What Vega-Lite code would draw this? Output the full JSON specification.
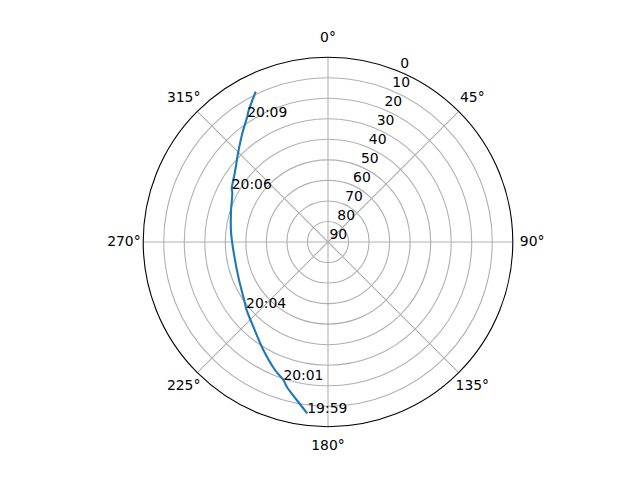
{
  "$schema": "https://vega.github.io/schema/vega-lite/v6.json",
  "description": "Polar sky plot of a satellite pass: azimuth clockwise from north, elevation 90 at the centre.",
  "autosize": "none",
  "width": 369.6,
  "height": 369.6,
  "padding": {"left": 143.2, "top": 57.2, "right": 127.2, "bottom": 53.2},
  "background": "white",
  "datasets": {
    "track": [
      {"az": 186.9, "el": 5.97, "time": "19:59"},
      {"az": 191.2, "el": 11.56, "time": ""},
      {"az": 195.9, "el": 16.71, "time": ""},
      {"az": 197.9, "el": 19.35, "time": "20:01"},
      {"az": 202.5, "el": 22.53, "time": ""},
      {"az": 210.9, "el": 28.69, "time": ""},
      {"az": 221.4, "el": 35.0, "time": ""},
      {"az": 231.0, "el": 38.64, "time": "20:04"},
      {"az": 233.6, "el": 39.75, "time": ""},
      {"az": 248.9, "el": 43.16, "time": ""},
      {"az": 265.2, "el": 43.71, "time": ""},
      {"az": 276.1, "el": 42.49, "time": ""},
      {"az": 287.3, "el": 40.51, "time": ""},
      {"az": 297.7, "el": 37.35, "time": ""},
      {"az": 298.7, "el": 36.54, "time": "20:06"},
      {"az": 307.1, "el": 33.22, "time": ""},
      {"az": 315.2, "el": 28.01, "time": ""},
      {"az": 322.3, "el": 22.09, "time": ""},
      {"az": 327.2, "el": 17.42, "time": "20:09"},
      {"az": 328.55, "el": 15.61, "time": ""},
      {"az": 334.3, "el": 8.77, "time": ""}
    ],
    "elev": [
      {"el": 0}, {"el": 10}, {"el": 20}, {"el": 30}, {"el": 40},
      {"el": 50}, {"el": 60}, {"el": 70}, {"el": 80}, {"el": 90}
    ],
    "azim": [
      {"az": 0, "label": "0°"}, {"az": 45, "label": "45°"},
      {"az": 90, "label": "90°"}, {"az": 135, "label": "135°"},
      {"az": 180, "label": "180°"}, {"az": 225, "label": "225°"},
      {"az": 270, "label": "270°"}, {"az": 315, "label": "315°"}
    ]
  },
  "encoding": {
    "x": {"field": "x", "type": "quantitative", "scale": {"domain": [-90, 90], "nice": false, "zero": false}, "axis": null},
    "y": {"field": "y", "type": "quantitative", "scale": {"domain": [-90, 90], "nice": false, "zero": false}, "axis": null}
  },
  "layer": [
    {
      "data": {"name": "elev"},
      "transform": [
        {"filter": "datum.el > 0 && datum.el < 90"},
        {"calculate": "90 - datum.el", "as": "r"},
        {"calculate": "0", "as": "x"},
        {"calculate": "0", "as": "y"}
      ],
      "mark": {"type": "point", "shape": "circle", "filled": false, "stroke": "#b0b0b0", "strokeWidth": 1.1, "opacity": 1},
      "encoding": {
        "size": {"field": "r", "type": "quantitative", "scale": {"type": "pow", "exponent": 2, "domain": [0, 90], "range": [0, 136604]}, "legend": null}
      }
    },
    {
      "data": {"name": "azim"},
      "transform": [
        {"calculate": "0", "as": "x"},
        {"calculate": "0", "as": "y"},
        {"calculate": "sin(datum.az * PI / 180) * 90", "as": "xe"},
        {"calculate": "cos(datum.az * PI / 180) * 90", "as": "ye"}
      ],
      "mark": {"type": "rule", "stroke": "#b0b0b0", "strokeWidth": 1.1},
      "encoding": {
        "x2": {"field": "xe"},
        "y2": {"field": "ye"}
      }
    },
    {
      "data": {"name": "track"},
      "transform": [
        {"calculate": "sin(datum.az * PI / 180) * (90 - datum.el)", "as": "x"},
        {"calculate": "cos(datum.az * PI / 180) * (90 - datum.el)", "as": "y"}
      ],
      "mark": {"type": "line", "color": "#1f77b4", "strokeWidth": 2.1, "interpolate": "catmull-rom"},
      "encoding": {
        "order": {"value": null}
      }
    },
    {
      "data": {"name": "elev"},
      "transform": [
        {"filter": "datum.el == 0"},
        {"calculate": "90 - datum.el", "as": "r"},
        {"calculate": "0", "as": "x"},
        {"calculate": "0", "as": "y"}
      ],
      "mark": {"type": "point", "shape": "circle", "filled": false, "stroke": "black", "strokeWidth": 1.1, "opacity": 1},
      "encoding": {
        "size": {"field": "r", "type": "quantitative", "scale": {"type": "pow", "exponent": 2, "domain": [0, 90], "range": [0, 136604]}, "legend": null}
      }
    },
    {
      "data": {"name": "elev"},
      "transform": [
        {"calculate": "sin(22.5 * PI / 180) * (90 - datum.el)", "as": "x"},
        {"calculate": "cos(22.5 * PI / 180) * (90 - datum.el)", "as": "y"}
      ],
      "mark": {"type": "text", "align": "left", "baseline": "middle", "dx": 1.5, "dy": -7.5, "font": "DejaVu Sans", "fontSize": 13.9, "color": "black"},
      "encoding": {
        "text": {"field": "el", "type": "quantitative"}
      }
    },
    {
      "data": {"name": "azim"},
      "transform": [
        {"calculate": "sin(datum.az * PI / 180) * 99.4", "as": "x"},
        {"calculate": "cos(datum.az * PI / 180) * 99.4", "as": "y"}
      ],
      "mark": {"type": "text", "align": "center", "baseline": "middle", "font": "DejaVu Sans", "fontSize": 13.9, "color": "black"},
      "encoding": {
        "text": {"field": "label", "type": "nominal"}
      }
    },
    {
      "data": {"name": "track"},
      "transform": [
        {"filter": "datum.time != ''"},
        {"calculate": "sin(datum.az * PI / 180) * (90 - datum.el)", "as": "x"},
        {"calculate": "cos(datum.az * PI / 180) * (90 - datum.el)", "as": "y"}
      ],
      "mark": {"type": "text", "align": "left", "baseline": "alphabetic", "font": "DejaVu Sans", "fontSize": 13.9, "color": "black"},
      "encoding": {
        "text": {"field": "time", "type": "nominal"}
      }
    }
  ],
  "config": {
    "view": {"stroke": null}
  }
}
